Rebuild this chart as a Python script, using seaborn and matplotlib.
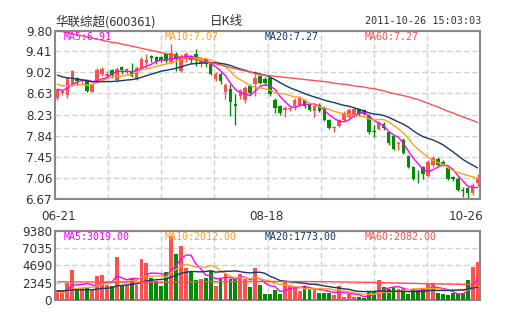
import numpy as np
import pandas as pd
import matplotlib
matplotlib.use("Agg")
import matplotlib.pyplot as plt
import seaborn as sns

# ---------------- data ----------------
opens = [8.55, 8.64, 8.61, 8.80, 8.91, 8.86, 8.86, 8.66, 8.86, 9.00,
         8.96, 9.06, 8.88, 9.12, 9.03, 9.05, 8.90, 9.11, 9.20, 9.32,
         9.30, 9.30, 9.36, 9.20, 9.37, 9.05, 9.27, 9.33, 9.37, 9.18,
         9.27, 9.18, 8.89, 9.00, 8.66, 8.71, 8.44, 8.58, 8.50, 8.77,
         8.80, 8.96, 8.90, 8.92, 8.50, 8.39, 8.32, 8.34, 8.39, 8.42,
         8.50, 8.44, 8.30, 8.42, 8.36, 8.14, 7.99, 8.02, 8.14, 8.20,
         8.22, 8.34, 8.33, 8.22, 7.93, 7.97, 8.07, 7.92, 7.84, 7.69,
         7.77, 7.46, 7.27, 7.10, 7.27, 7.10, 7.30, 7.41, 7.365, 7.24,
         7.07, 7.05, 6.83, 6.87, 6.775, 6.96]
highs = [8.72, 8.70, 8.93, 9.06, 8.93, 8.90, 8.88, 8.83, 9.10, 9.12,
         9.04, 9.08, 9.12, 9.14, 9.10, 9.20, 9.14, 9.30, 9.37, 9.35,
         9.33, 9.33, 9.38, 9.55, 9.40, 9.36, 9.40, 9.35, 9.45, 9.28,
         9.29, 9.20, 9.02, 9.02, 8.82, 8.81, 8.62, 8.72, 8.76, 8.80,
         9.05, 8.98, 8.93, 8.96, 8.55, 8.42, 8.40, 8.38, 8.54, 8.58,
         8.53, 8.46, 8.43, 8.45, 8.40, 8.16, 8.03, 8.16, 8.30, 8.36,
         8.38, 8.36, 8.35, 8.25, 8.05, 8.12, 8.10, 7.94, 7.86, 7.74,
         7.80, 7.48, 7.28, 7.21, 7.28, 7.40, 7.46, 7.45, 7.40, 7.26,
         7.10, 7.07, 6.89, 6.89, 6.97, 7.13]
lows = [8.51, 8.60, 8.55, 8.76, 8.78, 8.80, 8.66, 8.65, 8.84, 8.96,
        8.92, 8.92, 8.84, 9.00, 9.00, 8.94, 8.88, 9.08, 9.10, 9.22,
        9.18, 9.22, 9.20, 9.18, 9.05, 9.03, 9.22, 9.20, 9.14, 9.12,
        9.12, 8.97, 8.87, 8.81, 8.52, 8.21, 8.05, 8.52, 8.46, 8.60,
        8.58, 8.80, 8.78, 8.58, 8.27, 8.23, 8.19, 8.30, 8.32, 8.40,
        8.36, 8.30, 8.20, 8.29, 8.12, 7.97, 7.92, 8.00, 8.12, 8.18,
        8.20, 8.22, 8.23, 7.88, 7.83, 7.95, 7.95, 7.68, 7.58, 7.58,
        7.50, 7.25, 7.03, 6.96, 7.05, 7.08, 7.27, 7.28, 7.28, 7.02,
        7.01, 6.82, 6.71, 6.67, 6.74, 6.91]
closes = [8.71, 8.67, 8.92, 9.04, 8.87, 8.88, 8.68, 8.80, 9.07, 9.08,
          9.00, 8.98, 9.08, 9.06, 9.09, 8.96, 9.11, 9.27, 9.25, 9.28,
          9.22, 9.26, 9.24, 9.39, 9.27, 9.33, 9.36, 9.26, 9.25, 9.24,
          9.17, 8.99, 8.99, 8.86, 8.79, 8.48, 8.40, 8.69, 8.74, 8.64,
          8.92, 8.83, 8.82, 8.62, 8.36, 8.26, 8.36, 8.36, 8.51, 8.55,
          8.39, 8.33, 8.40, 8.31, 8.14, 7.99, 8.00, 8.13, 8.265, 8.32,
          8.34, 8.24, 8.25, 7.92, 7.91, 8.09, 7.99, 7.71, 7.60, 7.70,
          7.52, 7.27, 7.05, 7.09, 7.14, 7.365, 7.43, 7.30, 7.30, 7.04,
          7.05, 6.84, 6.82, 6.775, 6.93, 7.05]
volumes = [1380, 1030, 2280, 4020, 1470, 1610, 1700, 1400, 3260, 3400,
           1970, 1930, 5800, 1930, 1970, 2860, 1970, 5490, 4960, 2950,
           2630, 1830, 3800, 8700, 6160, 7320, 4290, 3850, 2720, 2860,
           3000, 3970, 1930, 2860, 3480, 2860, 2810, 3480, 2810, 1700,
           4300, 2010, 804, 804, 1340, 804, 2550, 2010, 1700, 1200,
           1930, 1430, 1430, 980, 980, 980, 670, 1880, 360, 760,
           360, 360, 220, 1120, 1120, 2700, 1700, 1470, 1740, 1470,
           1470, 804, 1470, 1290, 1470, 2340, 2250, 980, 760, 670,
           980, 760, 890, 2680, 4420, 5100]
# closes / volumes of the 19 sessions before 06-21 (warm-up for MA5/10/20)
prior_closes = [9.30, 9.25, 9.22, 9.18, 9.15, 9.10, 9.12, 9.05, 9.03, 9.00,
                8.95, 8.92, 8.90, 8.86, 8.82, 8.78, 8.72, 8.68, 8.66]
prior_volumes = [1700, 1500, 1600, 1400, 1650, 1450, 1550, 1600, 1500, 1550,
                 600, 800, 700, 650, 750, 1100, 1300, 1020, 1200]
# MA60 curves
ma60_price = [9.80, 9.78, 9.76, 9.74, 9.72, 9.70, 9.68, 9.66, 9.64, 9.62,
              9.60, 9.58, 9.57, 9.55, 9.53, 9.51, 9.49, 9.47, 9.45, 9.43,
              9.41, 9.39, 9.37, 9.35, 9.33, 9.31, 9.29, 9.28, 9.26, 9.24,
              9.22, 9.20, 9.18, 9.16, 9.14, 9.11, 9.09, 9.07, 9.05, 9.03,
              9.00, 8.98, 8.97, 8.96, 8.95, 8.94, 8.93, 8.92, 8.91, 8.90,
              8.89, 8.88, 8.87, 8.86, 8.85, 8.84, 8.82, 8.81, 8.80, 8.79,
              8.77, 8.76, 8.75, 8.73, 8.72, 8.70, 8.68, 8.65, 8.63, 8.61,
              8.59, 8.57, 8.54, 8.52, 8.48, 8.45, 8.41, 8.38, 8.34, 8.30,
              8.27, 8.23, 8.20, 8.16, 8.13, 8.09]
ma60_volume = [2460, 2460, 2450, 2450, 2450, 2440, 2440, 2440, 2430, 2430,
               2430, 2420, 2420, 2420, 2410, 2410, 2410, 2400, 2400, 2400,
               2400, 2400, 2410, 2420, 2430, 2440, 2450, 2450, 2460, 2460,
               2470, 2470, 2470, 2480, 2480, 2480, 2490, 2490, 2490, 2500,
               2500, 2500, 2500, 2500, 2500, 2500, 2500, 2500, 2500, 2490,
               2490, 2490, 2480, 2480, 2470, 2460, 2450, 2440, 2430, 2420,
               2410, 2400, 2390, 2380, 2370, 2350, 2340, 2320, 2300, 2290,
               2270, 2260, 2240, 2230, 2210, 2200, 2180, 2170, 2150, 2140,
               2130, 2120, 2110, 2100, 2090, 2082]

price_ticks = [6.67, 7.06, 7.45, 7.84, 8.23, 8.63, 9.02, 9.41, 9.80]
price_tick_labels = ["6.67", "7.06", "7.45", "7.84", "8.23", "8.63", "9.02", "9.41", "9.80"]
vol_ticks = [0, 2345, 4690, 7035, 9380]
vol_tick_labels = ["0", "2345", "4690", "7035", "9380"]
date_labels = ["06-21", "08-18", "10-26"]
date_index = [0, 42, 85]
title = "华联综超(600361)"
period = "日K线"
timestamp = "2011-10-26 15:03:03"
price_ma_labels = ["MA5:6.91", "MA10:7.07", "MA20:7.27", "MA60:7.27"]
vol_ma_labels = ["MA5:3019.00", "MA10:2012.00", "MA20:1773.00", "MA60:2082.00"]

# ---------------- styling ----------------
RED = "#FF5050"
GREEN = "#008C00"
MA_COLORS = ["#FF00FF", "#FFA020", "#123A6A", "#FF5050"]
GRID = "#D2D2D2"
SPINE = "#888888"
TXT = "#333333"
MONO = ["DejaVu Sans Mono"]
CJK = ["Noto Sans CJK SC", "DejaVu Sans"]

sns.set_theme(style="white")
plt.rcParams["font.family"] = ["DejaVu Sans", "Noto Sans CJK SC"]

n = len(closes)
idx = np.arange(n)
c_all = pd.Series(prior_closes + closes)
v_all = pd.Series(prior_volumes + volumes, dtype=float)
k = len(prior_closes)
price_mas = [c_all.rolling(w).mean().values[k:] for w in (5, 10, 20)] + [np.array(ma60_price)]
vol_mas = [v_all.rolling(w).mean().values[k:] for w in (5, 10, 20)] + [np.array(ma60_volume)]

o = np.array(opens); c = np.array(closes); h = np.array(highs); l = np.array(lows)
up = c >= o
cols = [RED if u else GREEN for u in up]

W, H = 505, 330
fig = plt.figure(figsize=(W / 100, H / 100), dpi=100)
fig.patch.set_facecolor("white")
ax = fig.add_axes([55 / W, 1 - 199 / H, 425 / W, 168.5 / H])
axv = fig.add_axes([55 / W, 1 - 300 / H, 425 / W, 69.5 / H])

vgrid = [-0.5 + n / 8 * j for j in range(1, 8)]

for a in (ax, axv):
    a.set_facecolor("white")
    a.set_xlim(-0.5, n - 0.5)
    a.set_xticks(vgrid)
    a.set_xticklabels([])
    a.grid(True, color=GRID, linestyle=(0, (4, 2)), linewidth=1)
    a.set_axisbelow(True)
    a.tick_params(length=0, pad=2, labelsize=8.6, labelcolor=TXT)
    for s in a.spines.values():
        s.set_color(SPINE)
        s.set_linewidth(1.5)

# price panel
ax.set_ylim(6.67, 9.80)
ax.set_yticks(price_ticks)
ax.set_yticklabels(price_tick_labels)
ax.vlines(idx, l, h, colors=cols, linewidth=1, zorder=2)
body_h = np.maximum(np.abs(c - o), 0.012)
ax.bar(idx, body_h, bottom=np.minimum(o, c), width=0.72, color=cols,
       linewidth=0, zorder=3)
for ma, col in zip(price_mas, MA_COLORS):
    sns.lineplot(x=idx, y=ma, ax=ax, color=col, linewidth=1, zorder=4, legend=False)
ax.set_xlabel(""); ax.set_ylabel("")

# volume panel
axv.set_ylim(0, 9380)
axv.set_yticks(vol_ticks)
axv.set_yticklabels(vol_tick_labels)
axv.bar(idx, volumes, width=0.78, color=cols, linewidth=0, zorder=3)
for ma, col in zip(vol_mas, MA_COLORS):
    sns.lineplot(x=idx, y=ma, ax=axv, color=col, linewidth=1, zorder=4, legend=False)
axv.set_xlabel(""); axv.set_ylabel("")

# texts
def fx(px):
    return px / W

def fy(py):
    return 1 - py / H

fig.text(fx(55), fy(21.5), title, ha="left", va="center", fontsize=9,
         family=CJK, color=TXT)
fig.text(fx(226), fy(21.5), period, ha="center", va="center", fontsize=9,
         family=CJK, color=TXT)
fig.text(fx(481), fy(21.5), timestamp, ha="right", va="center", fontsize=7.3,
         family=MONO, color=TXT)

label_x = [64, 165, 265, 365]
for lab, col, px in zip(price_ma_labels, MA_COLORS, label_x):
    fig.text(fx(px), fy(37), lab, ha="left", va="center", fontsize=7.2,
             family=MONO, color=col)
for lab, col, px in zip(vol_ma_labels, MA_COLORS, label_x):
    fig.text(fx(px), fy(237), lab, ha="left", va="center", fontsize=7.2,
             family=MONO, color=col)

# date labels under the price panel
x0 = 55 + 425 / n * 0.5
for lab, di in zip(date_labels, date_index):
    px = 55 + 425 / n * (di + 0.5)
    if di == n - 1:
        fig.text(fx(483), fy(216), lab, ha="right", va="center", fontsize=8.6, color=TXT)
    else:
        fig.text(fx(px + 1), fy(216), lab, ha="center", va="center", fontsize=8.6, color=TXT)

fig.savefig("out.png", dpi=100, facecolor="white")
